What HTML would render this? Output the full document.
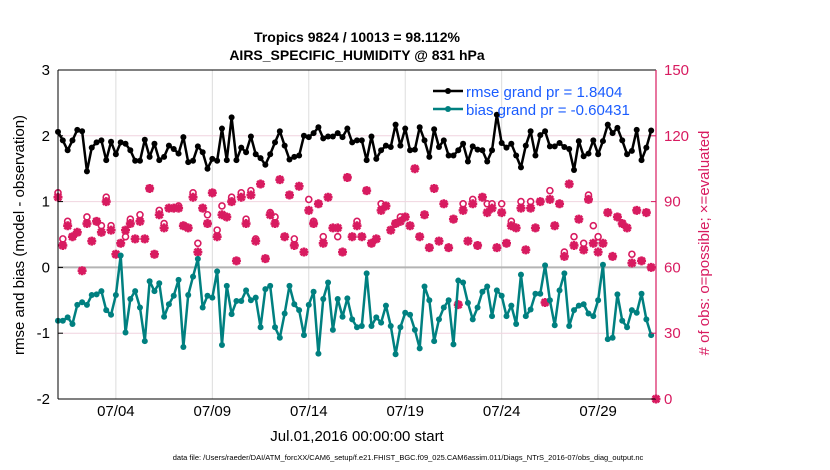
<!DOCTYPE html>
<html><head><meta charset="utf-8"><style>
body{margin:0;background:#fff;}
svg{display:block;font-family:"Liberation Sans",Arial,sans-serif;}
</style></head><body>
<svg id="chart" width="830" height="470" xmlns="http://www.w3.org/2000/svg">
<text x="357" y="42" text-anchor="middle" font-size="14" font-weight="bold">Tropics 9824 / 10013 = 98.112%</text>
<text x="357" y="60" text-anchor="middle" font-size="14" font-weight="bold">AIRS_SPECIFIC_HUMIDITY @ 831 hPa</text>
<g id="grid"></g>
<g id="marks"></g>
<g id="axes"></g>
<text transform="translate(24,235) rotate(-90)" text-anchor="middle" font-size="15">rmse and bias (model - observation)</text>
<text transform="translate(709,243) rotate(-90)" text-anchor="middle" font-size="15" fill="#d81b60"># of obs: o=possible; ×=evaluated</text>
<text x="357" y="441" text-anchor="middle" font-size="15">Jul.01,2016 00:00:00 start</text>
<text x="408" y="460" text-anchor="middle" font-size="7.5">data file: /Users/raeder/DAI/ATM_forcXX/CAM6_setup/f.e21.FHIST_BGC.f09_025.CAM6assim.011/Diags_NTrS_2016-07/obs_diag_output.nc</text>
<g>
<line x1="433" y1="91" x2="463" y2="91" stroke="#000" stroke-width="2.5"/><circle cx="448" cy="91" r="3" fill="#000"/>
<text x="466" y="97" font-size="15" fill="#1a5cff">rmse grand pr = 1.8404</text>
<line x1="433" y1="109" x2="463" y2="109" stroke="#008080" stroke-width="2.5"/><circle cx="448" cy="109" r="3" fill="#008080"/>
<text x="466" y="115" font-size="15" fill="#1a5cff">bias grand pr = -0.60431</text>
</g>
</svg>
<script>
const rmse=[2.06,1.93,1.78,1.93,2.09,2.07,1.46,1.82,1.90,1.93,1.63,1.91,1.72,1.90,1.88,1.78,1.62,1.62,1.94,1.68,1.88,1.63,1.68,1.85,1.80,1.73,1.98,1.60,1.62,1.84,1.75,1.50,1.65,1.62,2.11,1.63,2.28,1.63,1.82,1.75,1.99,1.72,1.66,1.56,1.72,1.90,2.07,1.85,1.64,1.68,1.70,2.00,1.98,2.04,2.13,1.96,1.99,1.99,2.04,1.98,2.11,1.90,1.93,1.93,1.63,1.99,1.65,1.78,1.85,1.83,2.17,1.85,2.11,1.78,1.79,2.13,1.93,1.68,2.10,1.83,1.93,1.70,1.70,1.78,1.88,1.61,1.84,1.79,1.78,1.61,1.78,2.32,1.89,1.82,1.88,1.70,1.52,1.85,2.07,1.70,2.01,2.07,1.84,1.84,1.89,1.83,1.80,1.48,1.92,1.69,1.73,1.93,1.72,1.92,2.17,2.04,2.12,1.93,1.72,1.77,2.09,1.63,1.82,2.08];
const bias=[-0.81,-0.81,-0.76,-0.86,-0.57,-0.53,-0.57,-0.42,-0.41,-0.36,-0.65,-0.72,-0.42,0.18,-0.99,-0.48,-0.36,-0.61,-1.12,-0.21,-0.36,-0.24,-0.75,-0.56,-0.43,-0.19,-1.21,-0.42,-0.14,0.13,-0.61,-0.43,-0.46,-0.06,-1.18,-0.28,-0.71,-0.51,-0.51,-0.35,-0.50,-0.46,-0.91,-0.33,-0.28,-0.91,-1.07,-0.70,-0.28,-0.56,-0.65,-1.03,-0.57,-0.37,-1.31,-0.48,-0.23,-0.95,-0.48,-0.75,-0.47,-0.79,-0.91,-0.89,-0.09,-0.89,-0.76,-0.84,-0.58,-0.89,-1.32,-0.91,-0.69,-0.72,-0.95,-1.23,-0.29,-0.50,-1.12,-0.79,-0.61,-0.50,-1.17,-0.20,-0.23,-0.54,-0.79,-0.61,-0.37,-0.29,-0.74,-0.35,-0.43,-0.74,-0.58,-0.86,-0.11,-0.74,-0.64,-0.40,-0.40,0.03,-0.50,-0.88,-0.35,-0.09,-0.89,-0.65,-0.58,-0.56,-0.70,-0.74,-0.50,0.04,-1.09,-1.07,-0.41,-0.81,-0.91,-0.65,-0.69,-0.40,-0.79,-1.03];
const nEval=[92,70,79,74,76,58.5,80,72,81,76,90,77,66,71,77,80,73,81,73,96,66,84,78,87,87,87,79,78,92,67,87,80,94,74,84,83,90,63,92,80,93,72,98,64,84,80,100,74,93,70,97,67,86,80,89,71,92,78,78,67,101,74,79,74,95,71,73,86,88,77,80,81,83,79,105,74,84,69,96,72,89,69,82,43,86,72,89,70,92,85,87,69,85,71,79,78,87,68,87,78,90,44,91,79,89,65,98,70,82,68,91,71,67,71,85,65,83,80,78,62,86,63,85,60,0];
const nPoss=[94,73,81,74,76,58.5,83,72,81,79,92,79,66,71,74,82,73,84,73,96,66,86,80,87,87,88,79,78,94,71,87,84,94,77,88,83,92,63,94,82,95,73,98,64,85,83,100,74,93,73,97,67,91,81,89,74,92,78,74,67,101,74,81,74,95,71,73,89,88,77,80,83,83,79,105,74,84,69,96,72,89,69,82,43,89,72,91,70,92,89,89,69,89,71,81,78,90,68,90,78,90,44,95,79,89,67,98,74,82,71,93,79,74,71,85,65,83,80,78,66,86,63,85,60,0];
const tickDays=[3,8,13,18,23,28];
const tickLabels=["07/04","07/09","07/14","07/19","07/24","07/29"];
const leftTicks=[3,2,1,0,-1,-2];
const rightTicks=[150,120,90,60,30,0];

const L=58,R=656,T=70,B=399;
const ns="http://www.w3.org/2000/svg";
const xDay=d=>L+d/31*(R-L);
const xi=i=>xDay(i*0.25);
const yL=v=>B-(v+2)/5*(B-T);
const yR=c=>B-c/150*(B-T);
function mk(tag,attrs,parent){const e=document.createElementNS(ns,tag);for(const k in attrs)e.setAttribute(k,attrs[k]);parent.appendChild(e);return e;}
const grid=document.getElementById('grid'),marks=document.getElementById('marks'),axes=document.getElementById('axes');

tickDays.forEach((d,k)=>{
  const g=mk('line',{x1:xDay(d),x2:xDay(d),y1:T,y2:B,stroke:'#dcdcdc','stroke-width':1},grid);
  
  
  const t=mk('text',{x:xDay(d),y:416,'text-anchor':'middle','font-size':15},axes);
  t.textContent=tickLabels[k];
  
  
});
leftTicks.forEach(v=>{
  if(v!==0&&v!==3&&v!==-2){const g=mk('line',{x1:L,x2:R,y1:yL(v),y2:yL(v),stroke:'#f0d4df','stroke-width':1},grid);
  
  }
  const t=mk('text',{x:50,y:yL(v)+5,'text-anchor':'end','font-size':15},axes);
  t.textContent=v;
  
  
  mk('line',{x1:L,x2:L+5,y1:yL(v),y2:yL(v),stroke:'#000'},axes);
});
rightTicks.forEach(c=>{
  const t=mk('text',{x:664,y:yR(c)+5,'font-size':15,fill:'#d81b60'},axes);
  t.textContent=c;
  
  
  mk('line',{x1:R-5,x2:R,y1:yR(c),y2:yR(c),stroke:'#d81b60'},axes);
});
const z=mk('line',{x1:L,x2:R,y1:yL(0),y2:yL(0),stroke:'#b4b4b4','stroke-width':2},grid);



const mag='#d81b60';
nPoss.forEach((c,i)=>{
  const e=mk('circle',{cx:xi(i),cy:yR(c),r:3,fill:'#fff',stroke:mag,'stroke-width':1.6},marks);
  
  
});
nEval.forEach((c,i)=>{
  const x=xi(i),y=yR(c);
  const p=`M${x-4.5},${y}L${x+4.5},${y}M${x},${y-4.5}L${x},${y+4.5}M${x-3.3},${y-3.3}L${x+3.3},${y+3.3}M${x-3.3},${y+3.3}L${x+3.3},${y-3.3}`;
  const e=mk('path',{d:p,stroke:mag,'stroke-width':2.6,fill:'none'},marks);
  
  
});
function series(vals,color,name){
  const pts=vals.map((v,i)=>xi(i)+','+yL(v)).join(' ');
  const pl=mk('polyline',{points:pts,fill:'none',stroke:color,'stroke-width':2.5,'stroke-linejoin':'round'},marks);
  
  
  vals.forEach((v,i)=>{
    const c=mk('circle',{cx:xi(i),cy:yL(v),r:3,fill:color},marks);
    
    
  });
}
series(rmse,'#000','rmse');
series(bias,'#008080','bias');

mk('line',{x1:L,x2:L,y1:T,y2:B,stroke:'#000','stroke-width':1},axes);
mk('line',{x1:L,x2:R,y1:T,y2:T,stroke:'#000','stroke-width':1},axes);
mk('line',{x1:L,x2:R,y1:B,y2:B,stroke:'#000','stroke-width':1},axes);
mk('line',{x1:R,x2:R,y1:T,y2:B,stroke:mag,'stroke-width':1.2},axes);
</script>
</body></html>
